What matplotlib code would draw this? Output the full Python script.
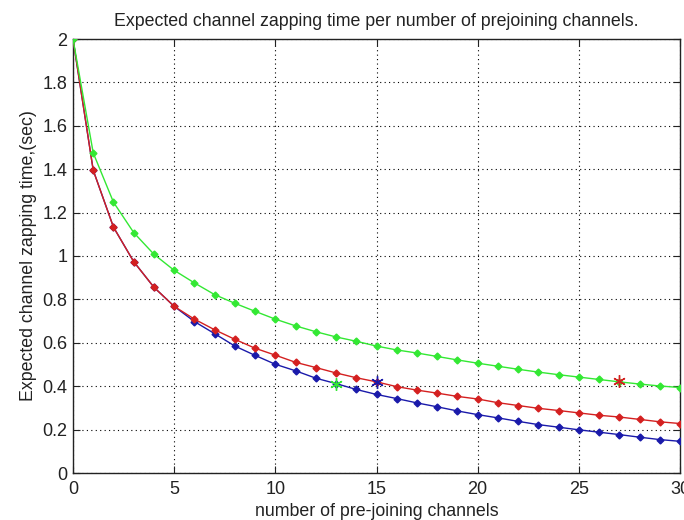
import matplotlib
matplotlib.use("Agg")
import matplotlib.pyplot as plt
import numpy as np

plt.rcParams['font.family'] = ['Liberation Sans', 'DejaVu Sans']

channels = list(range(0, 31))
green_vals = [2.0, 1.475, 1.248, 1.108, 1.008, 0.934, 0.876, 0.822, 0.782, 0.745, 0.709,
              0.678, 0.651, 0.627, 0.607, 0.585, 0.567, 0.553, 0.537, 0.521, 0.506,
              0.492, 0.478, 0.465, 0.453, 0.442, 0.431, 0.420, 0.410, 0.401, 0.394]
red_vals = [2.0, 1.395, 1.133, 0.974, 0.856, 0.768, 0.709, 0.660, 0.616, 0.575, 0.543,
            0.510, 0.486, 0.461, 0.439, 0.420, 0.398, 0.382, 0.368, 0.353, 0.341,
            0.324, 0.311, 0.298, 0.288, 0.277, 0.266, 0.258, 0.247, 0.236, 0.228]
blue_vals = [2.0, 1.395, 1.133, 0.974, 0.856, 0.768, 0.698, 0.642, 0.585, 0.542, 0.501,
             0.471, 0.437, 0.412, 0.385, 0.362, 0.343, 0.323, 0.305, 0.286, 0.269,
             0.254, 0.238, 0.223, 0.211, 0.199, 0.188, 0.177, 0.165, 0.154, 0.146]

star_x = [27, 13, 15]
star_y = [0.422, 0.412, 0.420]
star_colors = ['#d42020', '#33e833', '#1a1aaa']

xticks = [0, 5, 10, 15, 20, 25, 30]
yticks = [0, 0.2, 0.4, 0.6, 0.8, 1.0, 1.2, 1.4, 1.6, 1.8, 2.0]
ytick_labels = ['0', '0.2', '0.4', '0.6', '0.8', '1', '1.2', '1.4', '1.6', '1.8', '2']

fig = plt.figure(figsize=(6.84, 5.20), dpi=100)
ax = fig.add_axes([73/684, 47/520, 607/684, 434/520])

ax.plot(channels, blue_vals, color='#1a1aaa', marker='D', markersize=3.5, linewidth=1.0, zorder=3)
ax.plot(channels, red_vals, color='#d42020', marker='D', markersize=3.5, linewidth=1.0, zorder=3)
ax.plot(channels, green_vals, color='#33e833', marker='D', markersize=3.5, linewidth=1.0, zorder=3)

for sx, sy, sc in zip(star_x, star_y, star_colors):
    ax.plot([sx], [sy], marker=(6, 2, 0), color=sc, markersize=9, markeredgewidth=1.0,
            linestyle='none', zorder=4)

ax.set_xlim(0, 30)
ax.set_ylim(0, 2)
ax.set_xticks(xticks)
ax.set_yticks(yticks)
ax.set_yticklabels(ytick_labels)
ax.tick_params(direction='in', length=5, width=0.8, labelsize=13, top=True, right=True,
               colors='#222222', pad=4)
ax.tick_params(axis='x', pad=6)
ax.grid(True, color='black', linestyle=(0, (1, 3)), linewidth=0.8)
for sp in ax.spines.values():
    sp.set_linewidth(1.0)
    sp.set_color('#222222')

ax.set_title('Expected channel zapping time per number of prejoining channels.', fontsize=12.8,
             pad=9, color='#222222')
ax.set_xlabel('number of pre-joining channels', fontsize=12.8, labelpad=3, color='#222222')
ax.set_ylabel('Expected channel zapping time,(sec)', fontsize=12.8, labelpad=4, color='#222222')

fig.savefig('out.png', dpi=100)
